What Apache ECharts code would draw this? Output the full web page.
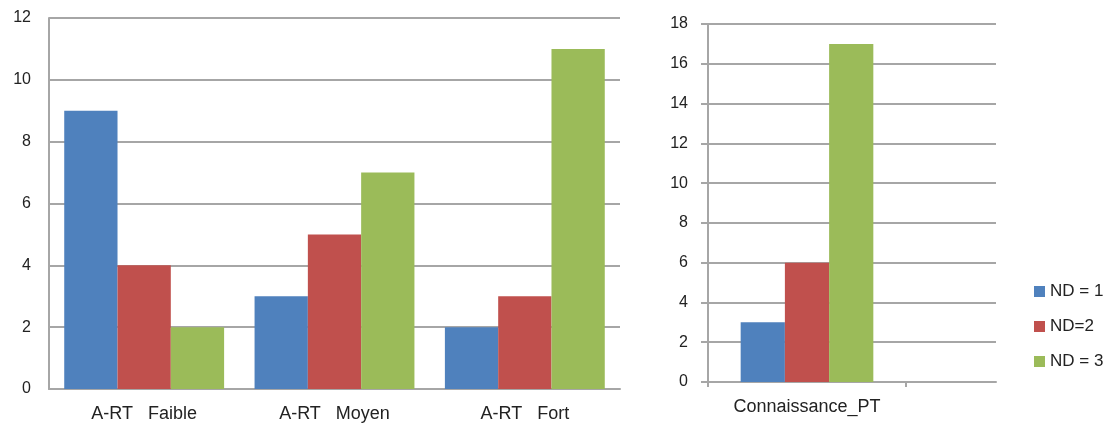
<!DOCTYPE html>
<html><head><meta charset="utf-8">
<script src="https://cdn.jsdelivr.net/npm/echarts@6/dist/echarts.min.js"></script>
<style>html,body{margin:0;padding:0;background:#fff}#c{width:1110px;height:423px}</style>
</head><body><div id="c"></div>
<script>
const seriesNames = ['ND = 1', 'ND=2', 'ND = 3'];
const leftCategories = ['A-RT   Faible', 'A-RT   Moyen', 'A-RT   Fort'];
const leftND1 = [9, 3, 2];
const leftND2 = [4, 5, 3];
const leftND3 = [2, 7, 11];
const rightCategories = ['Connaissance_PT'];
const rightND1 = [3];
const rightND2 = [6];
const rightND3 = [17];
const leftTicks = {min: 0, max: 12, interval: 2};
const rightTicks = {min: 0, max: 18, interval: 2};
const colors = ['#4F81BD', '#C0504D', '#9BBB59'];

const lineCol = '#A6A6A6';
const font = 'Liberation Sans, Arial, sans-serif';
const chart = echarts.init(document.getElementById('c'), null, {renderer: 'canvas'});
function bars(name, data, idx, gap, color) {
  return {type: 'bar', name, data, xAxisIndex: idx, yAxisIndex: idx, barGap: '0%', barCategoryGap: gap,
    itemStyle: {color}, animation: false};
}
chart.setOption({
  animation: false,
  color: colors,
  legend: {orient: 'vertical', left: 1029, top: 278, itemWidth: 11, itemHeight: 11, itemGap: 18,
    icon: 'rect', data: seriesNames, textStyle: {fontFamily: font, fontSize: 17, color: '#222'}},
  grid: [
    {left: 49, right: 490, top: 18, bottom: 34},
    {left: 708, right: 204, top: 24, bottom: 41},
    {left: 906, right: 114, top: 24, bottom: 41}
  ],
  xAxis: [
    {type: 'category', gridIndex: 0, data: leftCategories,
      axisLine: {lineStyle: {color: lineCol, width: 2}}, axisTick: {show: false},
      axisLabel: {margin: 16, fontFamily: font, fontSize: 18, color: '#222'}},
    {type: 'category', gridIndex: 1, data: rightCategories,
      axisLine: {lineStyle: {color: lineCol, width: 2}}, axisTick: {show: true, length: 5, lineStyle: {color: lineCol, width: 2}},
      axisLabel: {margin: 16, fontFamily: font, fontSize: 18, color: '#222'}},
    {type: 'category', gridIndex: 2, data: [''],
      axisLine: {lineStyle: {color: lineCol, width: 2}}, axisTick: {show: false}, axisLabel: {show: false}}
  ],
  yAxis: [
    {type: 'value', gridIndex: 0, min: leftTicks.min, max: leftTicks.max, interval: leftTicks.interval,
      axisLine: {show: true, lineStyle: {color: lineCol, width: 2}}, axisTick: {show: false},
      splitLine: {lineStyle: {color: lineCol, width: 2}},
      axisLabel: {margin: 18, fontFamily: font, fontSize: 16, color: '#222'}},
    {type: 'value', gridIndex: 1, min: rightTicks.min, max: rightTicks.max, interval: rightTicks.interval,
      axisLine: {show: true, lineStyle: {color: lineCol, width: 2}},
      axisTick: {show: true, length: 7, lineStyle: {color: lineCol, width: 2}},
      splitLine: {lineStyle: {color: lineCol, width: 2}},
      axisLabel: {margin: 20, fontFamily: font, fontSize: 16, color: '#222'}},
    {type: 'value', gridIndex: 2, min: rightTicks.min, max: rightTicks.max, interval: rightTicks.interval,
      axisLine: {show: false}, axisTick: {show: false}, axisLabel: {show: false},
      splitLine: {lineStyle: {color: lineCol, width: 2}}}
  ],
  series: [
    bars(seriesNames[0], leftND1, 0, '16%', colors[0]),
    bars(seriesNames[1], leftND2, 0, '16%', colors[1]),
    bars(seriesNames[2], leftND3, 0, '16%', colors[2]),
    bars(seriesNames[0], rightND1, 1, '33%', colors[0]),
    bars(seriesNames[1], rightND2, 1, '33%', colors[1]),
    bars(seriesNames[2], rightND3, 1, '33%', colors[2])
  ]
});
</script></body></html>
